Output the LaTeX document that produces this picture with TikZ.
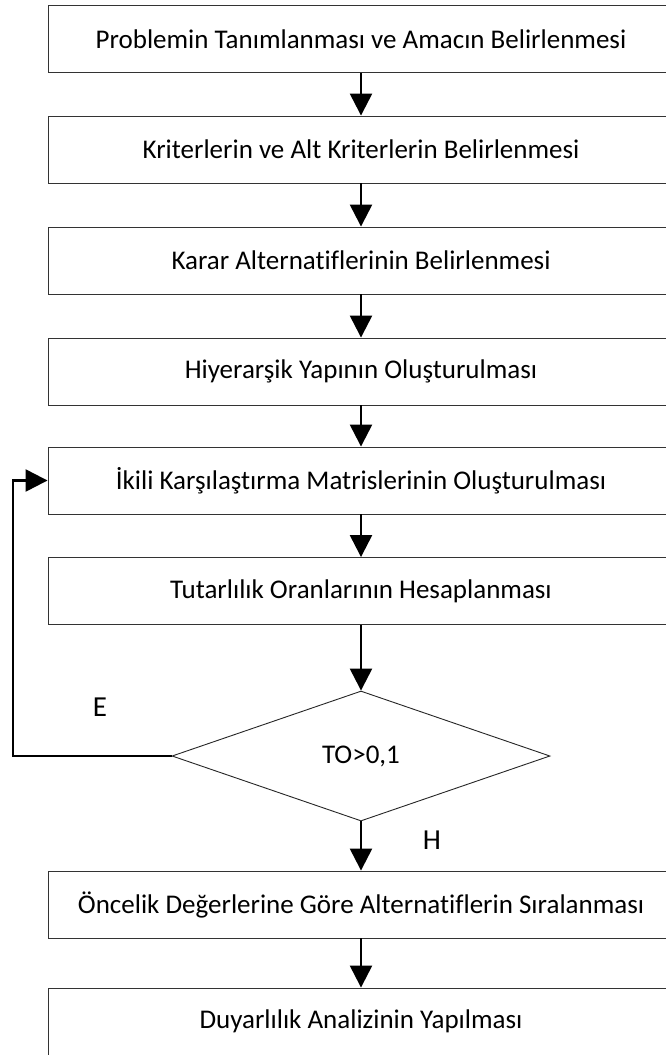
\documentclass[tikz,border=0pt]{standalone}
\usepackage{fontspec}
\setmainfont{Carlito}[Ligatures=NoCommon]
\usetikzlibrary{arrows.meta,shapes.geometric}
\tikzstyle{stepbox}=[draw=black!80,line width=0.9pt,fill=white,minimum width=626pt,minimum height=67pt,inner sep=0pt,font=\fontsize{27}{31}\selectfont]
\tikzstyle{decision}=[draw=black!85,line width=0.9pt,fill=white,diamond,minimum width=378pt,minimum height=130pt,inner sep=0pt,font=\fontsize{27}{31}\selectfont]
\tikzstyle{flow}=[line width=2.4pt,-{Triangle[width=22pt,length=22pt]}]
\tikzstyle{answer}=[font=\fontsize{29}{33}\selectfont]

\begin{document}
\begin{tikzpicture}[x=1pt,y=-1pt]
\useasboundingbox (0,0) rectangle (666,1055);
\clip (0,0) rectangle (666,1055);
\fill[white] (0,0) rectangle (666,1055);
\begin{scope}
	\node[stepbox] (problem) at (361,39) {Problemin Tanımlanması ve Amacın Belirlenmesi};
	\node[stepbox] (criteria) at (361,149.5) {Kriterlerin ve Alt Kriterlerin Belirlenmesi};
	\node[stepbox] (alternatives) at (361,260.5) {Karar Alternatiflerinin Belirlenmesi};
	\node[stepbox] (hierarchy) at (361,371.5) {Hiyerarşik Yapının Oluşturulması};
	\node[stepbox] (pairwise) at (361,480.5) {İkili Karşılaştırma Matrislerinin Oluşturulması};
	\node[stepbox] (consistency) at (361,591) {Tutarlılık Oranlarının Hesaplanması};
	\node[decision] (check) at (361,756) {TO>0,1};
	\node[stepbox] (ranking) at (361,904.5) {Öncelik Değerlerine Göre Alternatiflerin Sıralanması};
	\node[stepbox] (sensitivity) at (361,1021.5) {Duyarlılık Analizinin Yapılması};
	%\draw[red] (0,0) grid[step=50] (666,1055); % use this to debug
	\draw[flow] (problem) -- (criteria);
	\draw[flow] (criteria) -- (alternatives);
	\draw[flow] (alternatives) -- (hierarchy);
	\draw[flow] (hierarchy) -- (pairwise);
	\draw[flow] (pairwise) -- (consistency);
	\draw[flow] (consistency) -- (check);
	\draw[flow] (check) -- (ranking);
	\draw[flow] (ranking) -- (sensitivity);
	\coordinate (loopleft) at (13,756);
	\draw[flow] (check.west) -- (loopleft) |- (pairwise.west);
	\node[answer] (yes) at (100,707) {E};
	\node[answer] (no) at (432,840) {H};
\end{scope}
\end{tikzpicture}
\end{document}
